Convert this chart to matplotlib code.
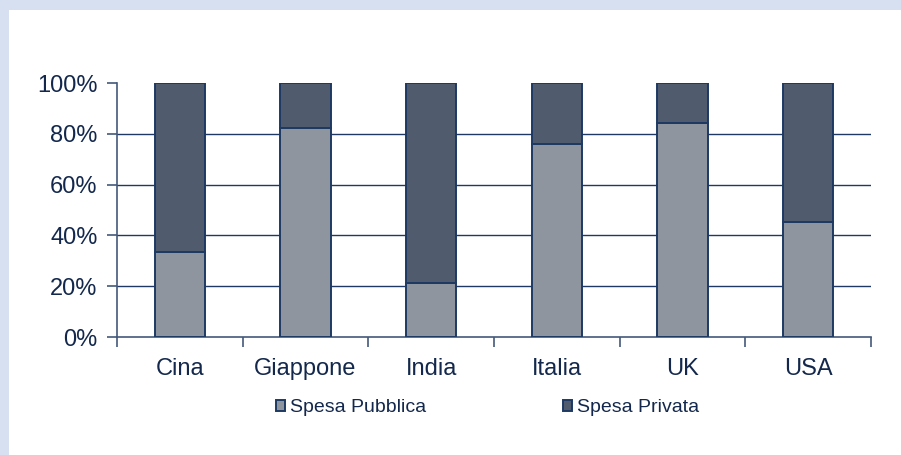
import matplotlib
matplotlib.use("Agg")
import matplotlib.pyplot as plt
from matplotlib.patches import Rectangle
from matplotlib.ticker import FuncFormatter

categories = ["Cina", "Giappone", "India", "Italia", "UK", "USA"]
spesa_pubblica = [33.5, 82.3, 21.3, 76.0, 84.3, 45.3]
spesa_privata = [100 - v for v in spesa_pubblica]
y_ticks = [0, 20, 40, 60, 80, 100]

plt.rcParams['font.family'] = ['Liberation Sans', 'DejaVu Sans']
text_c = "#13284c"
edge_c = "#1d3a63"
grid_c = "#1f3864"
axis_c = "#44597a"
pub_c = "#8f959e"
priv_c = "#505b6d"

W, H = 901, 455
fig = plt.figure(figsize=(W / 100, H / 100), dpi=100)
fig.patch.set_facecolor("white")
# light blue frame strips (top and left)
fig.patches.append(Rectangle((0, 1 - 10 / H), 1, 10 / H, transform=fig.transFigure,
                             facecolor="#d6e0f0", edgecolor="none", zorder=0))
fig.patches.append(Rectangle((0, 0), 9 / W, 1, transform=fig.transFigure,
                             facecolor="#d6e0f0", edgecolor="none", zorder=0))

ax = fig.add_axes([117 / W, 1 - 337 / H, (871 - 117) / W, (337 - 83) / H])
x = list(range(len(categories)))
bw = 0.4
ax.bar(x, spesa_pubblica, width=bw, color=pub_c, edgecolor=edge_c, linewidth=1.4,
       label="Spesa Pubblica", zorder=3)
ax.bar(x, spesa_privata, width=bw, bottom=spesa_pubblica, color=priv_c, edgecolor=edge_c,
       linewidth=1.4, label="Spesa Privata", zorder=3)

ax.set_xlim(-0.5, len(categories) - 0.5)
ax.set_ylim(0, 100)
ax.set_yticks(y_ticks)
ax.yaxis.set_major_formatter(FuncFormatter(lambda v, p: f"{int(v)}%"))
for g in y_ticks[1:-1]:
    ax.axhline(g, color=grid_c, linewidth=1.0, zorder=1)

ax.set_xticks(x)
ax.set_xticklabels(categories)
ax.set_xticks([i - 0.5 for i in range(len(categories) + 1)], minor=True)
ax.tick_params(axis="x", which="major", length=0, pad=15, labelsize=17, labelcolor=text_c)
ax.tick_params(axis="x", which="minor", length=7, width=1.2, color=axis_c, direction="out")
ax.tick_params(axis="y", length=7, width=1.2, color=axis_c, direction="out", pad=7,
               labelsize=17, labelcolor=text_c)

for s in ["top", "right"]:
    ax.spines[s].set_visible(False)
for s in ["left", "bottom"]:
    ax.spines[s].set_color(axis_c)
    ax.spines[s].set_linewidth(1.2)

leg = fig.legend(loc="center", bbox_to_anchor=(487.5 / W, 1 - 408 / H), ncol=2, frameon=False,
                 fontsize=14, handlelength=0.5, handleheight=0.5, handletextpad=0.25,
                 columnspacing=7.0, labelcolor=text_c)

fig.savefig("out.png", dpi=100)
